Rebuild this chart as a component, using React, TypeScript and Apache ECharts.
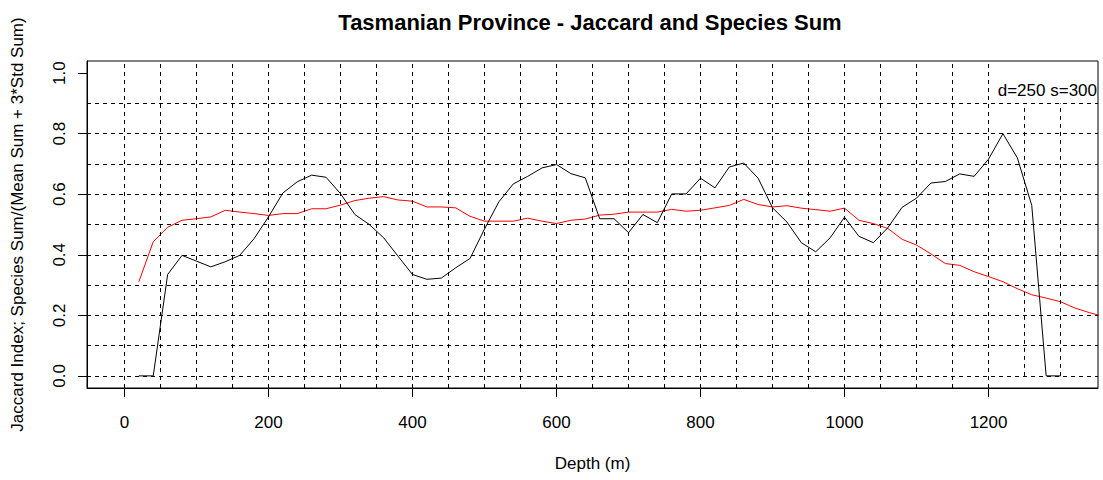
import React, { useEffect, useRef } from "react";
import * as echarts from "echarts";

const FONT = '"Liberation Sans", Arial, sans-serif';
const TITLE = "Tasmanian Province - Jaccard and Species Sum";
const X_NAME = "Depth (m)";
const Y_NAME = "Jaccard Index; Species Sum/(Mean Sum + 3*Std Sum)";
const ANNOTATION = "d=250 s=300";

const X_TICKS = [0, 200, 400, 600, 800, 1000, 1200];
const Y_TICKS = [0, 0.2, 0.4, 0.6, 0.8, 1.0];
const H_GRID = [0, 0.1, 0.2, 0.3, 0.4, 0.5, 0.6, 0.7, 0.8, 0.9];
const V_GRID = [0, 50, 100, 150, 200, 250, 300, 350, 400, 450, 500, 550, 600, 650, 700, 750, 800, 850, 900, 950, 1000, 1050, 1100, 1150, 1200];
const V_GRID_SHORT = [1250, 1300];
const X_DATA_RANGE = [0, 1300];
const Y_DATA_RANGE = [0, 1];

const depthJaccard = [
  20, 40, 60, 80, 100, 120, 140, 160, 180, 200, 220, 240, 260, 280, 300, 320, 340, 360, 380, 400,
  420, 440, 460, 480, 500, 520, 540, 560, 580, 600, 620, 640, 660, 680, 700, 720, 740, 760, 780, 800,
  820, 840, 860, 880, 900, 920, 940, 960, 980, 1000, 1020, 1040, 1060, 1080, 1100, 1120, 1140, 1160, 1180, 1200,
  1220, 1240, 1260, 1280, 1300,
];
const jaccard = [
  0, 0, 0.335, 0.398, 0.379, 0.36, 0.377, 0.398, 0.453, 0.525, 0.604, 0.641, 0.663, 0.656, 0.602, 0.533, 0.5, 0.456, 0.395, 0.335,
  0.319, 0.323, 0.357, 0.388, 0.485, 0.575, 0.634, 0.659, 0.687, 0.698, 0.668, 0.654, 0.519, 0.519, 0.473, 0.533, 0.506, 0.601, 0.601, 0.653,
  0.621, 0.69, 0.703, 0.653, 0.555, 0.508, 0.44, 0.41, 0.456, 0.524, 0.461, 0.44, 0.489, 0.557, 0.587, 0.637, 0.642, 0.667, 0.659, 0.716,
  0.8, 0.72, 0.563, 0, 0,
];

const depthSpecies = [
  20, 40, 60, 80, 100, 120, 140, 160, 180, 200, 220, 240, 260, 280, 300, 320, 340, 360, 380, 400,
  420, 440, 460, 480, 500, 520, 540, 560, 580, 600, 620, 640, 660, 680, 700, 720, 740, 760, 780, 800,
  820, 840, 860, 880, 900, 920, 940, 960, 980, 1000, 1020, 1040, 1060, 1080, 1100, 1120, 1140, 1160, 1180, 1200,
  1220, 1240, 1260, 1280, 1300, 1320, 1340, 1360,
];
const speciesSum = [
  0.311, 0.443, 0.491, 0.514, 0.519, 0.525, 0.547, 0.541, 0.536, 0.53, 0.536, 0.536, 0.552, 0.552, 0.564, 0.579, 0.587, 0.592, 0.581, 0.577,
  0.558, 0.558, 0.555, 0.527, 0.511, 0.511, 0.511, 0.521, 0.511, 0.503, 0.514, 0.518, 0.531, 0.534, 0.541, 0.541, 0.541, 0.55, 0.544, 0.547,
  0.555, 0.563, 0.583, 0.566, 0.558, 0.562, 0.554, 0.549, 0.544, 0.554, 0.514, 0.503, 0.487, 0.451, 0.432, 0.403, 0.371, 0.365, 0.344, 0.328,
  0.311, 0.288, 0.268, 0.257, 0.245, 0.224, 0.209, 0.196,
];

export default function App() {
  const ref = useRef<HTMLDivElement>(null);

  useEffect(() => {
    if (!ref.current) return;
    const chart = echarts.init(ref.current, null, { renderer: "svg" });

    const xPad = (X_DATA_RANGE[1] - X_DATA_RANGE[0]) * 0.04;
    const yPad = (Y_DATA_RANGE[1] - Y_DATA_RANGE[0]) * 0.04;

    const gridLines: any[] = [
      ...H_GRID.map((v) => ({ yAxis: v })),
      ...V_GRID.map((v) => ({ xAxis: v })),
      ...V_GRID_SHORT.map((v) => [{ coord: [v, 0] }, { coord: [v, 0.9] }]),
    ];

    const option: any = {
      animation: false,
      textStyle: { fontFamily: FONT },
      grid: {
        left: 87,
        top: 61,
        right: 5,
        bottom: 92,
        show: true,
        borderColor: "#000",
        borderWidth: 1,
        backgroundColor: "transparent",
      },
      xAxis: {
        type: "value",
        min: X_DATA_RANGE[0] - xPad,
        max: X_DATA_RANGE[1] + xPad,
        name: X_NAME,
        nameLocation: "middle",
        nameGap: 67,
        nameTextStyle: { fontSize: 17, color: "#000", fontFamily: FONT },
        axisLine: { show: true, onZero: false, lineStyle: { color: "#000", width: 1 } },
        axisTick: { show: true, customValues: X_TICKS, length: 9, lineStyle: { color: "#000" } },
        axisLabel: {
          show: true,
          customValues: X_TICKS,
          fontSize: 17,
          color: "#000",
          margin: 26,
          fontFamily: FONT,
          formatter: (v: number) => String(v),
        },
        splitLine: { show: false },
      },
      yAxis: {
        type: "value",
        min: Y_DATA_RANGE[0] - yPad,
        max: Y_DATA_RANGE[1] + yPad,
        name: Y_NAME,
        nameLocation: "middle",
        nameRotate: 90,
        nameGap: 61,
        nameTextStyle: { fontSize: 17, color: "#000", fontFamily: FONT },
        axisLine: { show: true, onZero: false, lineStyle: { color: "#000", width: 1 } },
        axisTick: { show: true, customValues: Y_TICKS, length: 9, lineStyle: { color: "#000" } },
        axisLabel: {
          show: true,
          customValues: Y_TICKS,
          rotate: 90,
          fontSize: 17,
          color: "#000",
          margin: 19.5,
          fontFamily: FONT,
          formatter: (v: number) => v.toFixed(1),
        },
        splitLine: { show: false },
      },
      graphic: [
        {
          type: "text",
          x: 590,
          y: 22.5,
          style: {
            text: TITLE,
            fontSize: 22,
            fontWeight: "bold",
            fontFamily: FONT,
            fill: "#000",
            align: "center",
            verticalAlign: "middle",
          },
        },
        {
          type: "text",
          x: 1097,
          y: 90,
          style: {
            text: ANNOTATION,
            fontSize: 17,
            fontFamily: FONT,
            fill: "#000",
            align: "right",
            verticalAlign: "middle",
          },
        },
      ],
      series: [
        {
          type: "line",
          name: "Species Sum",
          data: depthSpecies.map((d, i) => [d, speciesSum[i]]),
          showSymbol: false,
          symbol: "none",
          lineStyle: { color: "#ff0000", width: 1 },
          itemStyle: { color: "#ff0000" },
          clip: true,
          markLine: {
            silent: true,
            symbol: ["none", "none"],
            label: { show: false },
            lineStyle: { color: "#000", type: [4, 4], width: 1 },
            emphasis: { disabled: true },
            data: gridLines,
          },
        },
        {
          type: "line",
          name: "Jaccard",
          data: depthJaccard.map((d, i) => [d, jaccard[i]]),
          showSymbol: false,
          symbol: "none",
          lineStyle: { color: "#000", width: 1 },
          itemStyle: { color: "#000" },
          clip: true,
        },
      ],
    };

    chart.setOption(option);
    return () => chart.dispose();
  }, []);

  return (
    <div
      ref={ref}
      style={{ position: "fixed", left: 0, top: 0, width: 1103, height: 480, background: "#fff" }}
    />
  );
}
